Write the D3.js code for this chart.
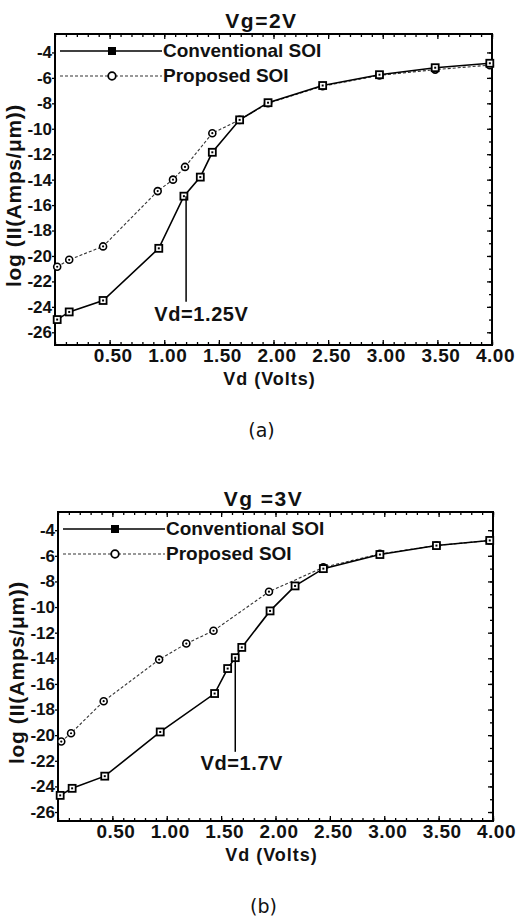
<!DOCTYPE html>
<html>
<head>
<meta charset="utf-8">
<script src="https://cdn.jsdelivr.net/npm/d3@7"></script>
<style>
  body { margin: 0; background: #fff; }
  svg { display: block; }
  text { font-family: "Liberation Sans", Arial, sans-serif; font-weight: bold; fill: #111; }
</style>
</head>
<body>
<script>
// Tick values shared by both panels
const xTickValues = [0.5, 1.0, 1.5, 2.0, 2.5, 3.0, 3.5, 4.0];
const yTickValues = [-26, -24, -22, -20, -18, -16, -14, -12, -10, -8, -6, -4];
const seriesNames = ['Conventional SOI', 'Proposed SOI'];

// Panel (a) Vg = 2V
const convVdA  = [0.02, 0.13, 0.44, 0.95, 1.18, 1.33, 1.44, 1.69, 1.95, 2.45, 2.97, 3.48, 3.98];
const convLogA = [-25.0, -24.4, -23.5, -19.4, -15.3, -13.8, -11.85, -9.3, -7.95, -6.6, -5.75, -5.2, -4.85];
const propVdA  = [0.02, 0.13, 0.44, 0.94, 1.08, 1.19, 1.44, 1.69, 1.95, 2.45, 2.97, 3.48, 3.98];
const propLogA = [-20.85, -20.3, -19.25, -14.9, -14.0, -13.0, -10.35, -9.3, -8.0, -6.65, -5.8, -5.35, -5.0];

// Panel (b) Vg = 3V
const convVdB  = [0.02, 0.13, 0.43, 0.94, 1.44, 1.56, 1.63, 1.69, 1.95, 2.18, 2.44, 2.96, 3.48, 3.97];
const convLogB = [-24.7, -24.15, -23.2, -19.75, -16.75, -14.8, -13.95, -13.15, -10.3, -8.35, -7.0, -5.9, -5.2, -4.8];
const propVdB  = [0.03, 0.12, 0.42, 0.93, 1.18, 1.43, 1.94, 2.44, 2.96, 3.48, 3.97];
const propLogB = [-20.5, -19.85, -17.35, -14.1, -12.85, -11.85, -8.8, -6.9, -5.85, -5.2, -4.8];

const W = 523, H = 921;
const svg = d3.select('body').append('svg').attr('width', W).attr('height', H);

const panels = [
  { title: 'Vg=2V', caption: '(a)', conv: [convVdA, convLogA], prop: [propVdA, propLogA],
    annotVd: 1.2, annotFrom: -15.3, annotTo: -23.6, annotLabel: 'Vd=1.25V', annotLabelVd: 1.34, annotLabelLog: -25.1,
    left: 55, right: 492, top: 34, bottom: 345, yDomain: [-27.0, -2.55] },
  { title: 'Vg =3V', caption: '(b)', conv: [convVdB, convLogB], prop: [propVdB, propLogB],
    annotVd: 1.63, annotFrom: -13.95, annotTo: -21.3, annotLabel: 'Vd=1.7V', annotLabelVd: 1.69, annotLabelLog: -22.75,
    left: 58, right: 493, top: 512, bottom: 821, yDomain: [-26.7, -2.58] }
];

function zip(a, b) { return a.map((v, i) => [v, b[i]]); }

function drawMarkers(g, pts, kind, x, y) {
  if (kind === 0) {
    g.selectAll(null).data(pts).join('rect')
      .attr('x', d => x(d[0]) - 3.5).attr('y', d => y(d[1]) - 3.5)
      .attr('width', 7).attr('height', 7)
      .attr('fill', '#fff').attr('stroke', '#000').attr('stroke-width', 1.8);
    g.selectAll(null).data(pts).join('rect')
      .attr('x', d => x(d[0]) - 1).attr('y', d => y(d[1]) - 1)
      .attr('width', 2).attr('height', 2).attr('fill', '#000');
  } else {
    g.selectAll(null).data(pts).join('circle')
      .attr('cx', d => x(d[0])).attr('cy', d => y(d[1])).attr('r', 3.5)
      .attr('fill', '#fff').attr('stroke', '#000').attr('stroke-width', 1.6);
    g.selectAll(null).data(pts).join('circle')
      .attr('cx', d => x(d[0])).attr('cy', d => y(d[1])).attr('r', 1.1)
      .attr('fill', '#000');
  }
}

function drawPanel(p) {
  const x = d3.scaleLinear().domain([0, 4]).range([p.left, p.right]);
  const y = d3.scaleLinear().domain(p.yDomain).range([p.bottom, p.top]);
  const g = svg.append('g');

  // minor ticks on top / bottom
  g.append('g').attr('transform', `translate(0,${p.bottom})`)
    .call(d3.axisBottom(x).ticks(40).tickSize(-3).tickFormat(''));
  g.append('g').attr('transform', `translate(0,${p.top})`)
    .call(d3.axisTop(x).ticks(40).tickSize(-3).tickFormat(''));
  g.append('g').attr('transform', `translate(0,${p.top})`)
    .call(d3.axisTop(x).tickValues(xTickValues).tickSize(-5).tickFormat(''));

  // bottom axis with labels
  const bx = g.append('g').attr('transform', `translate(0,${p.bottom})`)
    .call(d3.axisBottom(x).tickValues(xTickValues).tickSize(-5).tickPadding(4).tickFormat(d3.format('.2f')));
  bx.selectAll('text').attr('font-size', 19).attr('dx', 3).style('letter-spacing', '0.5px');

  // left axis with labels
  const ly = g.append('g').attr('transform', `translate(${p.left},0)`)
    .call(d3.axisLeft(y).tickValues(yTickValues).tickSize(3).tickPadding(0).tickFormat(d => String(d)));
  ly.selectAll('text').attr('font-size', 17);

  // right axis ticks
  g.append('g').attr('transform', `translate(${p.right},0)`)
    .call(d3.axisRight(y).tickValues(d3.range(-26, -3, 1)).tickSize(-3).tickFormat(''));
  g.append('g').attr('transform', `translate(${p.right},0)`)
    .call(d3.axisRight(y).tickValues(yTickValues).tickSize(-5).tickFormat(''));

  g.selectAll('.domain').remove();
  g.selectAll('.tick line').attr('stroke', '#000').attr('stroke-width', 1.3);
  g.selectAll('.tick text').attr('fill', '#111').attr('font-family', '"Liberation Sans", Arial, sans-serif');

  // frame
  g.append('rect').attr('x', p.left).attr('y', p.top)
    .attr('width', p.right - p.left).attr('height', p.bottom - p.top)
    .attr('fill', 'none').attr('stroke', '#000').attr('stroke-width', 2);

  const line = d3.line().x(d => x(d[0])).y(d => y(d[1]));
  const convPts = zip(p.conv[0], p.conv[1]);
  const propPts = zip(p.prop[0], p.prop[1]);

  g.append('path').datum(propPts).attr('d', line)
    .attr('fill', 'none').attr('stroke', '#333').attr('stroke-width', 1.1).attr('stroke-dasharray', '3,2');
  g.append('path').datum(convPts).attr('d', line)
    .attr('fill', 'none').attr('stroke', '#000').attr('stroke-width', 1.6);

  drawMarkers(g.append('g'), propPts, 1, x, y);
  drawMarkers(g.append('g'), convPts, 0, x, y);

  // annotation
  g.append('line')
    .attr('x1', x(p.annotVd)).attr('x2', x(p.annotVd))
    .attr('y1', y(p.annotFrom)).attr('y2', y(p.annotTo))
    .attr('stroke', '#000').attr('stroke-width', 1.5);
  g.append('text').attr('x', x(p.annotLabelVd)).attr('y', y(p.annotLabelLog))
    .attr('text-anchor', 'middle').attr('font-size', 20).style('letter-spacing', '0.6px')
    .text(p.annotLabel);

  // legend
  const legY = [p.top + 17, p.top + 42];
  seriesNames.forEach((name, i) => {
    const ly0 = legY[i];
    g.append('line').attr('x1', p.left + 5).attr('x2', p.left + 107)
      .attr('y1', ly0).attr('y2', ly0)
      .attr('stroke', i === 0 ? '#000' : '#333')
      .attr('stroke-width', i === 0 ? 1.6 : 1.1)
      .attr('stroke-dasharray', i === 0 ? null : '3,2');
    const mx = p.left + 57;
    if (i === 0) {
      g.append('rect').attr('x', mx - 4).attr('y', ly0 - 4).attr('width', 8).attr('height', 8).attr('fill', '#000');
    } else {
      g.append('circle').attr('cx', mx).attr('cy', ly0).attr('r', 3.8)
        .attr('fill', '#fff').attr('stroke', '#000').attr('stroke-width', 1.8);
    }
    g.append('text').attr('x', p.left + 108).attr('y', ly0 + 6)
      .attr('font-size', 19).text(name);
  });

  // title
  g.append('text').attr('x', (p.left + p.right) / 2 - 12).attr('y', p.top - 6)
    .attr('text-anchor', 'middle').attr('font-size', 21).style('letter-spacing', '1.5px')
    .text(p.title);

  // x axis title
  g.append('text').attr('x', (p.left + p.right) / 2 - 4).attr('y', p.bottom + 40)
    .attr('text-anchor', 'middle').attr('font-size', 18).style('letter-spacing', '1px')
    .text('Vd (Volts)');

  // y axis title
  g.append('text')
    .attr('transform', `translate(${p.left - 34},${(p.top + p.bottom) / 2 + 6}) rotate(-90)`)
    .attr('text-anchor', 'middle').attr('font-size', 21).style('letter-spacing', '0.6px')
    .text('log (II(Amps/\u03bcm))');

  // caption
  g.append('text').attr('x', (p.left + p.right) / 2 - 12).attr('y', p.bottom + 92)
    .attr('text-anchor', 'middle').attr('font-size', 19)
    .style('font-family', '"DejaVu Sans", sans-serif').style('font-weight', 'normal')
    .attr('fill', '#333')
    .text(p.caption);
}

panels.forEach(drawPanel);
</script>
</body>
</html>
